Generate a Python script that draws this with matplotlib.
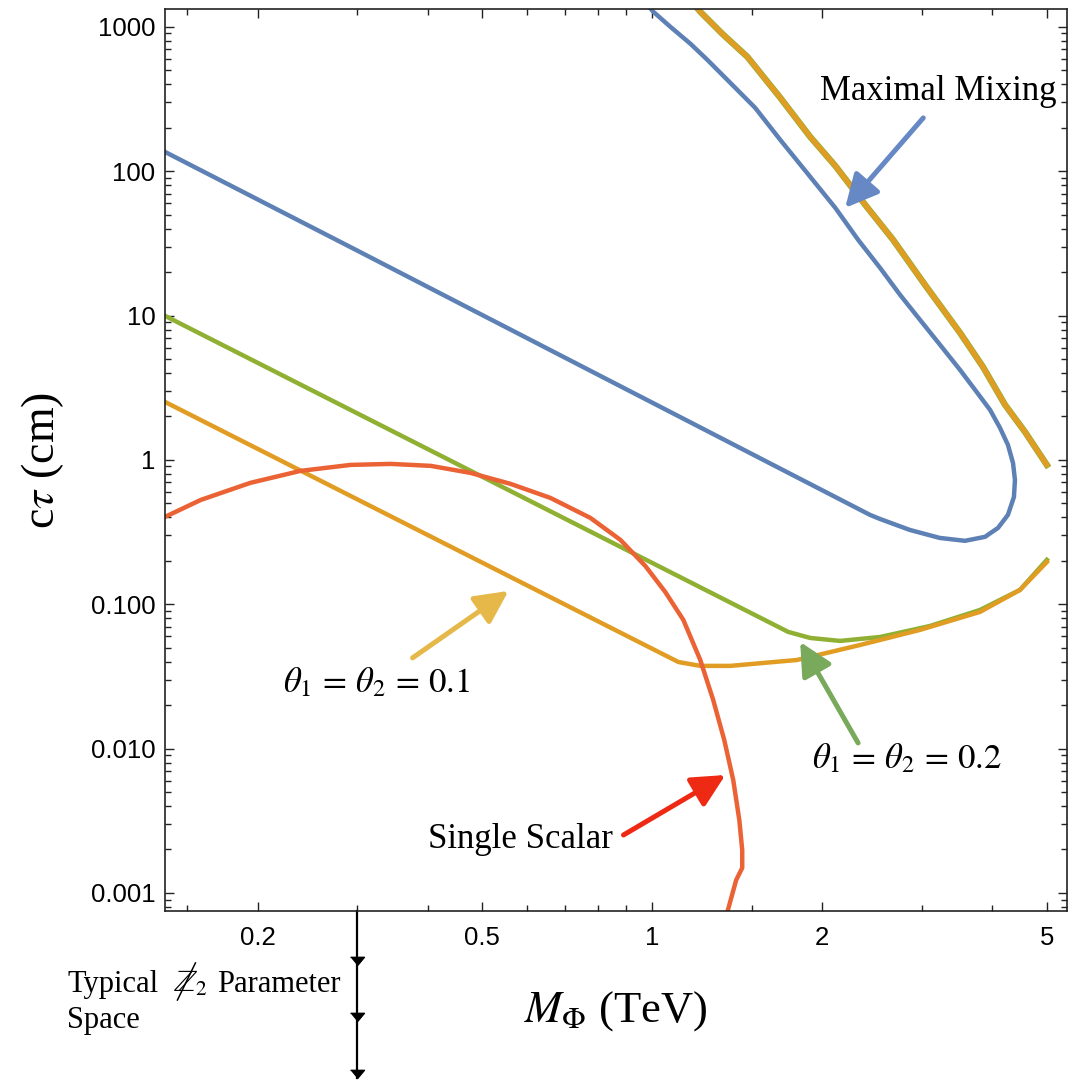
import numpy as np
import matplotlib
matplotlib.use('Agg')
import matplotlib.pyplot as plt
from matplotlib.lines import Line2D
from matplotlib.ticker import FixedLocator, FixedFormatter, NullFormatter, LogLocator

plt.rcParams['font.family'] = ['Liberation Sans', 'DejaVu Sans']
plt.rcParams['mathtext.fontset'] = 'stix'

# M_Phi in TeV, c*tau in cm
# maximal mixing: lower branch, turn-over near 4.4 TeV, upper branch back to the top
mix_mass = [0.137, 0.30, 1.0, 2.43, 2.53, 2.86, 3.23, 3.58, 3.885, 4.097, 4.266, 4.372,
            4.39, 4.355, 4.266, 4.13, 3.966, 3.73, 3.509, 3.234, 2.98, 2.748, 2.532,
            2.315, 2.109, 1.904, 1.685, 1.521, 1.374, 1.251, 1.168, 1.076, 1.004, 0.972]
mix_ctau = [136, 28.2, 2.49, 0.416, 0.39, 0.327, 0.288, 0.275, 0.293, 0.338, 0.416, 0.554,
            0.727, 0.953, 1.27, 1.667, 2.22, 3.06, 4.20, 6.27, 9.34, 13.9, 21.4,
            33.5, 55.8, 91.5, 165, 275, 410, 592, 764, 1002, 1272, 1469]

# theta1 = theta2 = 0.2
th02_mass = [0.137, 1.741, 1.904, 2.151, 2.532, 3.105, 3.807, 4.48, 5.0]
th02_ctau = [9.95, 0.0643, 0.0584, 0.0557, 0.0593, 0.0707, 0.0913, 0.1256, 0.203]

# theta1 = theta2 = 0.1
th01_mass = [0.137, 1.112, 1.216, 1.374, 1.805, 2.334, 2.98, 3.807, 4.48, 5.0]
th01_ctau = [2.52, 0.0398, 0.0374, 0.0374, 0.0411, 0.0522, 0.0664, 0.0885, 0.1256, 0.196]

# upper branch shared by the two mixing-angle curves
upper_mass = [1.167, 1.216, 1.33, 1.473, 1.685, 1.904, 2.109, 2.383, 2.670, 3.042,
              3.509, 3.853, 4.215, 4.573, 5.0]
upper_ctau = [1541, 1272, 896, 621, 323, 173, 109, 58.5, 33.5, 16.3,
              7.59, 4.41, 2.41, 1.563, 0.923]

# single scalar
single_mass = [0.137, 0.1585, 0.194, 0.238, 0.292, 0.344, 0.405, 0.476, 0.561, 0.66,
               0.777, 0.878, 0.972, 1.054, 1.135, 1.216, 1.282, 1.341, 1.391, 1.426,
               1.443, 1.443, 1.408, 1.358]
single_ctau = [0.403, 0.528, 0.693, 0.839, 0.923, 0.938, 0.909, 0.813, 0.682, 0.545,
               0.396, 0.279, 0.184, 0.1217, 0.0778, 0.0411, 0.0217, 0.01147, 0.00606, 0.0032,
               0.00198, 0.00149, 0.00123, 0.000737]

ytick_vals = [0.001, 0.01, 0.1, 1, 10, 100, 1000]
ytick_labels = ['0.001', '0.010', '0.100', '1', '10', '100', '1000']
xtick_vals = [0.2, 0.5, 1, 2, 5]
xtick_labels = ['0.2', '0.5', '1', '2', '5']
xminor_vals = [0.15, 0.3, 0.4, 0.6, 0.7, 0.8, 0.9, 1.5, 3, 4]

blue = '#5E81B5'
orange = '#E19C24'
green = '#8FB032'
red = '#EB6235'


def add_arrow(ax, xy, xytext, color):
    ax.annotate('', xy=xy, xytext=xytext,
                arrowprops=dict(arrowstyle='-|>,head_length=1.0,head_width=0.5',
                                mutation_scale=20, lw=3.6, color=color,
                                shrinkA=0, shrinkB=0))


fig = plt.figure(figsize=(10.69, 10.81), dpi=100)
ax = fig.add_axes([0.1544, 0.1573, 0.8438, 0.8344])
ax.set_xscale('log')
ax.set_yscale('log')
ax.set_xlim(0.137, 5.43)
ax.set_ylim(7.5e-4, 1.33e3)

ax.plot(mix_mass, mix_ctau, color=blue, lw=3.2, solid_joinstyle='round')
ax.plot(upper_mass, upper_ctau, color=green, lw=4.6)
ax.plot(upper_mass, upper_ctau, color=orange, lw=3.6)
ax.plot(th02_mass, th02_ctau, color=green, lw=3.2)
ax.plot(th01_mass, th01_ctau, color=orange, lw=3.2)
ax.plot(single_mass, single_ctau, color=red, lw=3.2)

# ticks
ax.xaxis.set_major_locator(FixedLocator(xtick_vals))
ax.xaxis.set_major_formatter(FixedFormatter(xtick_labels))
ax.xaxis.set_minor_locator(FixedLocator(xminor_vals))
ax.xaxis.set_minor_formatter(NullFormatter())
ax.yaxis.set_major_locator(FixedLocator(ytick_vals))
ax.yaxis.set_major_formatter(FixedFormatter(ytick_labels))
ax.yaxis.set_minor_locator(LogLocator(base=10, subs=np.arange(2, 10), numticks=20))
ax.yaxis.set_minor_formatter(NullFormatter())
ax.tick_params(which='both', direction='in', top=True, right=True, width=1, color='#222222')
ax.tick_params(which='major', length=6.5, labelsize=18.5)
ax.tick_params(which='minor', length=4.5)
ax.tick_params(axis='x', which='major', pad=11)
ax.tick_params(axis='y', which='major', pad=7)
for s in ax.spines.values():
    s.set_linewidth(1.2)
    s.set_color('#222222')

ax.set_xlabel(r'$M_\Phi$ (TeV)', fontsize=32, family='Liberation Serif')
ax.xaxis.label.set_va('baseline')
ax.xaxis.set_label_coords(0.5, -0.123)
ax.set_ylabel(r'c$\tau$ (cm)', fontsize=33, family='Liberation Serif')
ax.yaxis.label.set_va('center')
ax.yaxis.set_label_coords(-0.136, 0.5)

# labels and arrows
serif = dict(family='Liberation Serif', fontsize=25, color='black')
ax.text(1.983, 312, 'Maximal Mixing', **serif)
add_arrow(ax, (2.196, 55.7), (3.02, 234), '#6688C4')
ax.text(0.222, 0.0247, r'$\theta_1\,=\,\theta_2\,=\,0.1$', **serif)
add_arrow(ax, (0.556, 0.1236), (0.376, 0.0425), '#E6B84A')
ax.text(1.919, 0.00734, r'$\theta_1\,=\,\theta_2\,=\,0.2$', **serif)
add_arrow(ax, (1.828, 0.0548), (2.315, 0.01094), '#79AA5C')
ax.text(0.401, 0.00205, 'Single Scalar', **serif)
add_arrow(ax, (1.347, 0.00656), (0.889, 0.00252), '#EE2A14')

# downward arrow marking the typical parameter space
trans = ax.get_xaxis_transform()
ax.plot([0.3, 0.3], [0, -0.185], color='black', lw=1.6, transform=trans, clip_on=False)
ax.plot([0.3, 0.3, 0.3], [-0.0554, -0.1175, -0.1807], ls='none', color='black',
        marker=[(-1, 0.6), (1, 0.6), (0, -0.6)], ms=10, transform=trans, clip_on=False)
note = dict(family='Liberation Serif', fontsize=22)
fig.text(0.0627, 0.0823, 'Typical', **note)
fig.text(0.1618, 0.0823, r'$\mathbb{Z}_2$', **note)
fig.text(0.203, 0.0823, 'Parameter', **note)
fig.text(0.0627, 0.049, 'Space', **note)
# slash through the Z2
fig.add_artist(Line2D([0.1660, 0.1828], [0.0749, 0.1092], transform=fig.transFigure,
                      color='black', lw=1.1))

fig.savefig('out.png', dpi=100)
